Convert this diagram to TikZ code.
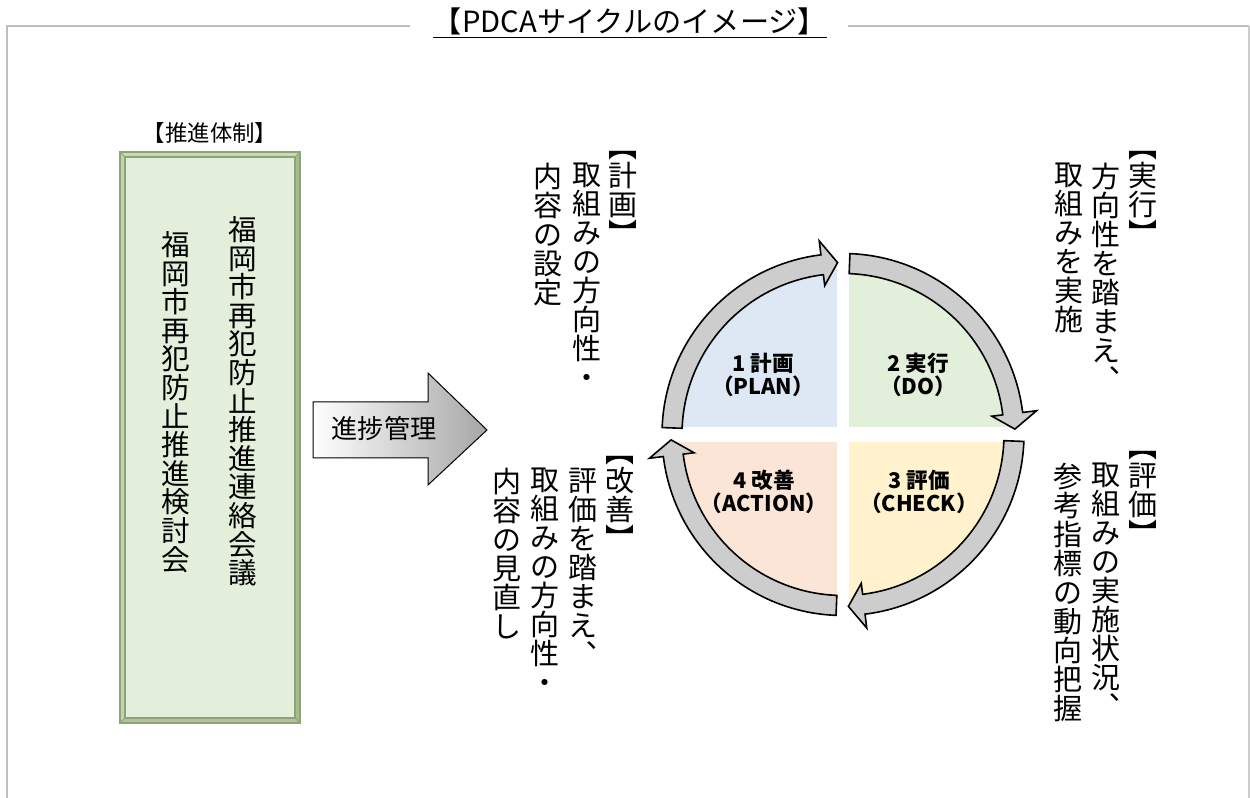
\documentclass[tikz,border=0pt]{standalone}
\usepackage{fontspec}
\setmainfont{Noto Sans CJK JP}
\usetikzlibrary{positioning}
\definecolor{framegray}{HTML}{BFBFBF}
\definecolor{ringgray}{HTML}{CDCDCD}
\definecolor{planblue}{HTML}{DEE8F4}
\definecolor{dogreen}{HTML}{E2EFDA}
\definecolor{checkyellow}{HTML}{FFF2CC}
\definecolor{actorange}{HTML}{FBE5D6}
\definecolor{boxfill}{HTML}{E3EFDA}
\definecolor{bevlight}{HTML}{C9D8B7}
\definecolor{bevdark}{HTML}{A7BB90}
\definecolor{bevline}{HTML}{8DA477}
\tikzset{
  tate/.style={inner sep=0pt, align=center, anchor=north,
    font={\fontsize{14.5pt}{14.5pt}\selectfont\lineskiplimit=-20pt},
    execute at begin node={\rule{0pt}{.88em}}},
  tatebox/.style={tate, font={\fontsize{14.3pt}{14.3pt}\selectfont\lineskiplimit=-20pt}},
  ring/.style={draw=black, fill=ringgray, line width=0.8pt, line join=miter},
  phase/.style={align=center, inner sep=0pt, font={\bfseries\fontsize{10.8pt}{11.2pt}\selectfont}},
  frameline/.style={draw=framegray, line width=1.3pt}
}
\begin{document}
\begin{tikzpicture}[x=0.5pt,y=0.5pt]
\useasboundingbox (0,0) rectangle (1250,798);
% frame and title
\node[inner sep=0pt, font={\fontsize{14.6pt}{16pt}\selectfont}] (title) at (630,775) {\underline{【PDCAサイクルのイメージ】}};
\draw[frameline] (410,772) -- (7,772) -- (7,0);
\draw[frameline] (848,772) -- (1249,772);
\draw[framegray!80, line width=0.6pt] (1249,772) -- (1249,0);

% promotion system
\node[font={\fontsize{11.2pt}{12pt}\selectfont}] (taisei) at (210,665) {【推進体制】};
\fill[bevlight] (120,646) -- (300,646) -- (295,641) -- (125,641) -- cycle;
\fill[bevlight!85!bevdark] (120,75) -- (120,646) -- (125,641) -- (125,80) -- cycle;
\fill[bevdark] (300,646) -- (300,75) -- (295,80) -- (295,641) -- cycle;
\fill[bevdark!70!bevlight] (120,75) -- (300,75) -- (295,80) -- (125,80) -- cycle;
\draw[bevline, fill=boxfill, line width=0.6pt] (125,80) rectangle (295,641);
\draw[bevline, line width=0.6pt] (120,75) rectangle (300,646);
\draw[bevline, line width=0.4pt] (120,75) -- (125,80) (300,75) -- (295,80) (120,646) -- (125,641) (300,646) -- (295,641);
\node[tatebox] (renraku) at (243,582) {福\\岡\\市\\再\\犯\\防\\止\\推\\進\\連\\絡\\会\\議};
\node[tatebox] (kentou) at (176,567) {福\\岡\\市\\再\\犯\\防\\止\\推\\進\\検\\討\\会};

% progress arrow
\path[draw=black, line width=0.5pt, left color=white, right color=black!35]
  (313,396) -- (428,396) -- (428,425) -- (487,368) -- (428,313) -- (428,340) -- (313,340) -- cycle;
\node[font={\fontsize{13.1pt}{14pt}\selectfont}] (kanri) at (384,369) {進捗管理};

% PDCA cycle
\begin{scope}[shift={(843,363.5)}]
\fill[planblue] (-6,7.5) -- ++(-165,0) arc (180:90:165) -- cycle;
\fill[dogreen] (6,7.5) -- ++(0,165) arc (90:0:165) -- cycle;
\fill[checkyellow] (6,-7.5) -- ++(165,0) arc (0:-90:165) -- cycle;
\fill[actorange] (-6,-7.5) -- ++(0,-165) arc (-90:-180:165) -- cycle;
\draw[ring] (177.8:181) arc (177.8:97:181) -- (97:195) -- (91.8:172) -- (97:150) -- (97:161) arc (97:177.8:161) -- cycle;
\draw[ring] (87.8:181) arc (87.8:7:181) -- (7:195) -- (1.8:172) -- (7:150) -- (7:161) arc (7:87.8:161) -- cycle;
\draw[ring] (-2.2:181) arc (-2.2:-83:181) -- (-83:195) -- (-88.2:172) -- (-83:150) -- (-83:161) arc (-83:-2.2:161) -- cycle;
\draw[ring] (-92.2:181) arc (-92.2:-173:181) -- (-173:195) -- (-178.2:172) -- (-173:150) -- (-173:161) arc (-173:-92.2:161) -- cycle;
\node[phase] (plan) at (-80,59.5) {1 計画\\（PLAN）};
\node[phase] (do) at (75,59.5) {2 実行\\（DO）};
\node[phase] (check) at (76,-57.5) {3 評価\\（CHECK）};
\node[phase] (act) at (-79,-57.5) {4 改善\\（ACTION）};
\end{scope}

% plan
\node[tate] (plan1) at (623,647) {︻\\計\\画\\︼};
\node[tate] (plan2) at (587,635) {取\\組\\み\\の\\方\\向\\性\\・};
\node[tate] (plan3) at (548,635) {内\\容\\の\\設\\定};
% do
\node[tate] (do1) at (1143,647) {︻\\実\\行\\︼};
\node[tate] (do2) at (1106,635) {方\\向\\性\\を\\踏\\ま\\え\\︑};
\node[tate] (do3) at (1069,635) {取\\組\\み\\を\\実\\施};
% act
\node[tate] (act1) at (620,342) {︻\\改\\善\\︼};
\node[tate] (act2) at (583,330) {評\\価\\を\\踏\\ま\\え\\︑};
\node[tate] (act3) at (545,330) {取\\組\\み\\の\\方\\向\\性\\・};
\node[tate] (act4) at (507,330) {内\\容\\の\\見\\直\\し};
% check
\node[tate] (check1) at (1143,347) {︻\\評\\価\\︼};
\node[tate] (check2) at (1106,335) {取\\組\\み\\の\\実\\施\\状\\況\\︑};
\node[tate] (check3) at (1068,335) {参\\考\\指\\標\\の\\動\\向\\把\\握};
\end{tikzpicture}
\end{document}
